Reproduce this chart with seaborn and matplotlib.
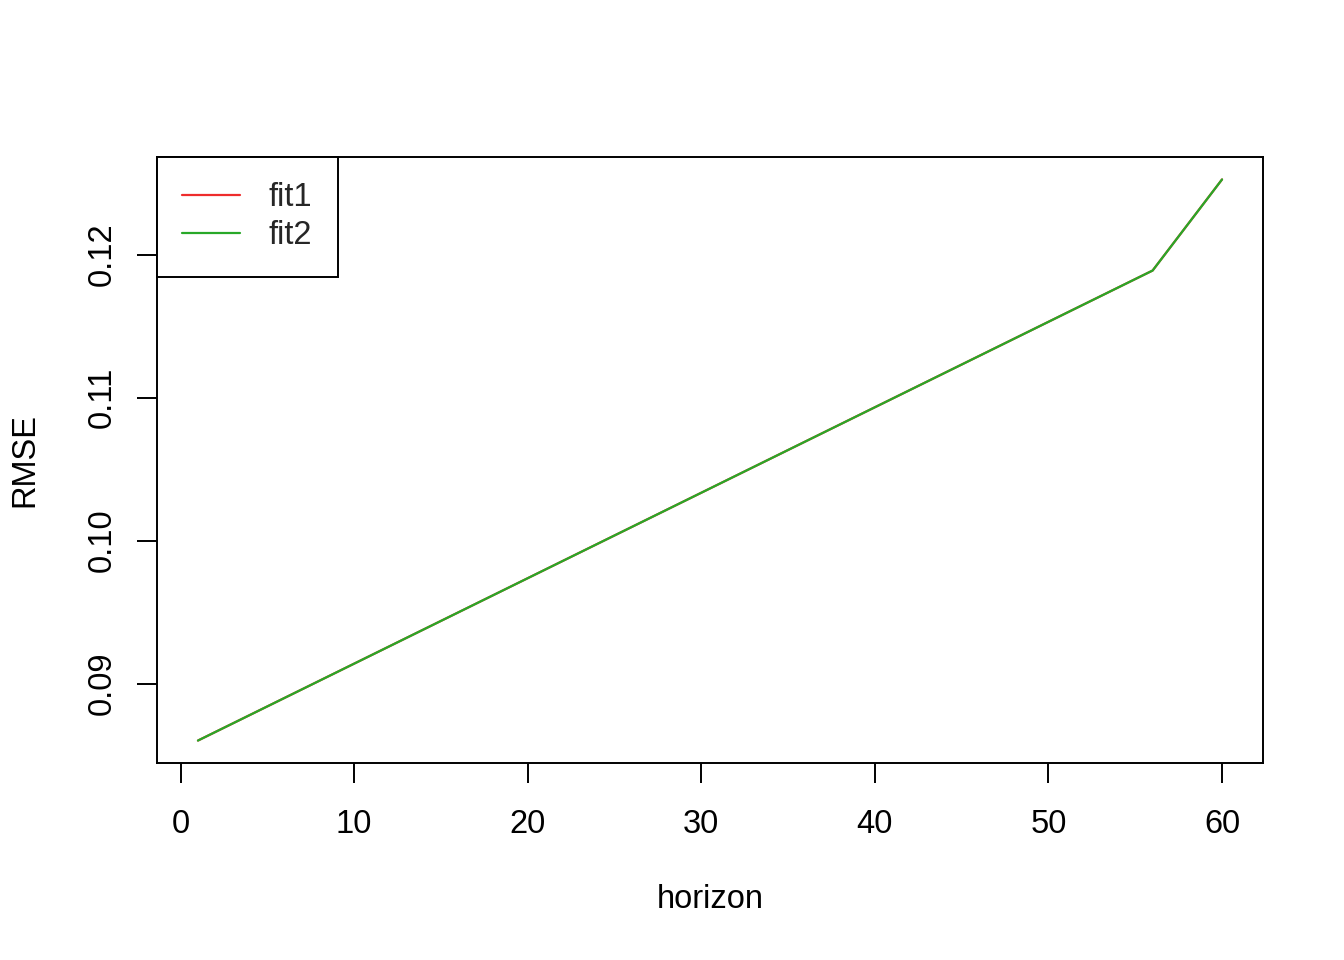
import matplotlib
matplotlib.use('Agg')

import pandas as pd
import seaborn as sns
from matplotlib import pyplot as plt

# RMSE by forecast horizon (both fits give identical values, fit2 sits on top)
horizon = [1, 56, 60]
rmse_fit1 = [0.08601, 0.11888, 0.12525]
rmse_fit2 = [0.08601, 0.11888, 0.12525]
x_ticks = [0, 10, 20, 30, 40, 50, 60]
y_ticks = [0.09, 0.10, 0.11, 0.12]
y_tick_labels = ['0.09', '0.10', '0.11', '0.12']

sns.set_style('white')
plt.rcParams['font.family'] = ['Liberation Sans', 'DejaVu Sans']
FS = 23.5

db = pd.concat([
    pd.DataFrame({'horizon': horizon, 'RMSE': rmse_fit1, 'fit': 'fit1'}),
    pd.DataFrame({'horizon': horizon, 'RMSE': rmse_fit2, 'fit': 'fit2'}),
])

fig = plt.figure(figsize=(13.44, 9.6), dpi=100)
ax = fig.add_axes([157/1344, 1 - 763/960, (1263-157)/1344, (763-157)/960])

sns.lineplot(data=db, x='horizon', y='RMSE', hue='fit',
             palette={'fit1': '#EE2C2C', 'fit2': '#28A828'},
             linewidth=1.6, ax=ax)

# R style padding of 4% around the data
xr = max(horizon) - min(horizon)
ax.set_xlim(min(horizon) - 0.04*xr, max(horizon) + 0.04*xr)
lo = min(rmse_fit1 + rmse_fit2)
hi = max(rmse_fit1 + rmse_fit2)
ax.set_ylim(lo - 0.04*(hi - lo), hi + 0.04*(hi - lo))

ax.set_xticks(x_ticks)
ax.set_xticklabels([str(t) for t in x_ticks])
ax.set_yticks(y_ticks)
ax.set_yticklabels(y_tick_labels, rotation=90, va='center')

for sp in ax.spines.values():
    sp.set_visible(True)
    sp.set_color('black')
    sp.set_linewidth(1.4)

ax.tick_params(axis='both', direction='out', length=14.4, width=1.4,
               color='black', labelsize=FS, labelcolor='black',
               bottom=True, left=True)
ax.tick_params(axis='x', pad=19)
ax.tick_params(axis='y', pad=14)

ax.set_xlabel('horizon', fontsize=FS, color='black')
ax.set_ylabel('RMSE', fontsize=FS, color='black')
ax.xaxis.label.set_va('center')
ax.yaxis.label.set_va('center')
ax.xaxis.set_label_coords(0.5, (763 - 900) / 606)
ax.yaxis.set_label_coords((25 - 157) / 1106, 0.5)

leg = ax.legend(loc='upper left', bbox_to_anchor=(0, 1), borderaxespad=0,
                fancybox=False, edgecolor='black', framealpha=1,
                fontsize=FS, handlelength=1.75, handletextpad=0.9,
                borderpad=0.78, labelspacing=0.21, title=None)
leg.get_frame().set_linewidth(1.4)
for line in leg.get_lines():
    line.set_linewidth(1.6)

fig.savefig('out.png', dpi=100, facecolor='white')
